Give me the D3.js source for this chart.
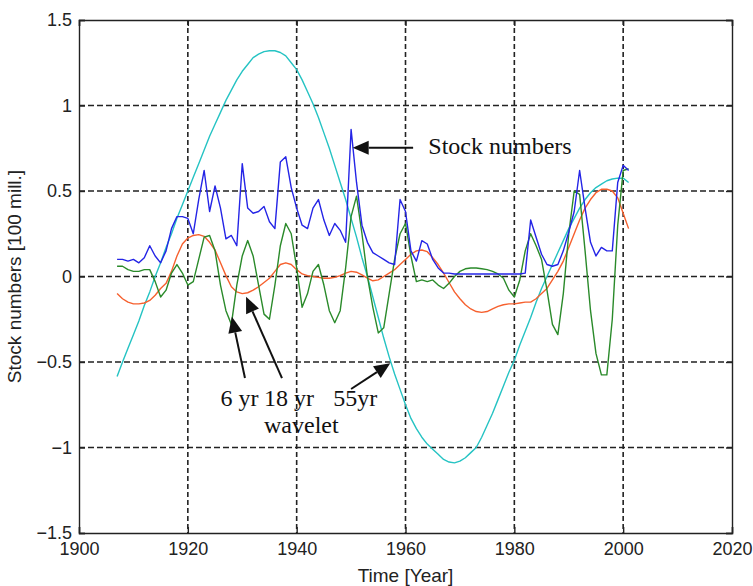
<!DOCTYPE html>
<html>
<head>
<meta charset="utf-8">
<script src="https://cdn.jsdelivr.net/npm/d3@7"></script>
<style>
  body { margin: 0; background: #fff; }
  .tick text { font-family: "Liberation Sans", Arial, sans-serif; font-size: 18px; fill: #222; }
  .axis-label { font-family: "Liberation Sans", Arial, sans-serif; font-size: 19px; fill: #222; }
  .note { font-family: "Liberation Serif", "Times New Roman", serif; font-size: 24px; fill: #111; }
</style>
</head>
<body>
<div id="vis"></div>
<script>
//###############################################################
// Stock numbers with 6 / 18 / 55 yr wavelet components
//###############################################################
const FRAME_WIDTH = 753;
const FRAME_HEIGHT = 586;
const MARGINS = {left: 79, right: 21, top: 20, bottom: 53};
const VIS_WIDTH = FRAME_WIDTH - MARGINS.left - MARGINS.right;
const VIS_HEIGHT = FRAME_HEIGHT - MARGINS.top - MARGINS.bottom;

// years 1907 .. 2001
const YEARS = d3.range(1907, 2002);

const X_TICKS = [1900, 1920, 1940, 1960, 1980, 2000, 2020];
const Y_TICKS = [-1.5, -1, -0.5, 0, 0.5, 1, 1.5];

// stock numbers (blue)
const STOCK = [
  0.10, 0.10, 0.09, 0.10, 0.08, 0.11, 0.18, 0.12, 0.08, 0.15,
  0.28, 0.35, 0.35, 0.34, 0.25, 0.45, 0.62, 0.38, 0.53, 0.40,
  0.22, 0.24, 0.18, 0.66, 0.40, 0.37, 0.38, 0.41, 0.32, 0.28,
  0.67, 0.70, 0.52, 0.40, 0.30, 0.28, 0.40, 0.45, 0.33, 0.24,
  0.31, 0.27, 0.20, 0.86, 0.55, 0.30, 0.20, 0.14, 0.12, 0.10,
  0.08, 0.07, 0.45, 0.38, 0.15, 0.09, 0.21, 0.19, 0.10, 0.05,
  0.02, 0.02, 0.015, 0.015, 0.015, 0.015, 0.015, 0.015, 0.015, 0.015,
  0.015, 0.015, 0.015, 0.015, 0.015, 0.02, 0.33, 0.23, 0.13, 0.07,
  0.06, 0.07, 0.15, 0.26, 0.38, 0.62, 0.40, 0.20, 0.12, 0.17,
  0.15, 0.15, 0.55, 0.65, 0.62
];

// 6 yr wavelet (green)
const WAVE_6 = [
  0.06, 0.06, 0.04, 0.03, 0.03, 0.04, 0.04, -0.03, -0.12, -0.08,
  0.02, 0.07, 0.02, -0.05, -0.03, 0.10, 0.23, 0.24, 0.15, -0.05,
  -0.20, -0.28, -0.05, 0.12, 0.21, 0.12, -0.05, -0.22, -0.25, -0.05,
  0.18, 0.31, 0.25, 0.05, -0.18, -0.10, 0.03, 0.07, -0.05, -0.20,
  -0.27, -0.20, 0.05, 0.35, 0.47, 0.25, 0.00, -0.18, -0.33, -0.30,
  -0.10, 0.10, 0.25, 0.31, 0.12, -0.03, -0.02, -0.03, -0.02, -0.05,
  -0.07, -0.04, 0.00, 0.03, 0.045, 0.05, 0.05, 0.045, 0.04, 0.03,
  0.015, -0.01, -0.08, -0.12, -0.02, 0.15, 0.25, 0.18, 0.10, -0.08,
  -0.28, -0.34, -0.10, 0.25, 0.50, 0.48, 0.15, -0.20, -0.45, -0.575,
  -0.575, -0.25, 0.30, 0.62, 0.63
];

// 18 yr wavelet (orange)
const WAVE_18 = [
  -0.10, -0.13, -0.15, -0.16, -0.16, -0.155, -0.14, -0.11, -0.07, -0.04,
  0.03, 0.12, 0.19, 0.225, 0.24, 0.245, 0.235, 0.20, 0.155, 0.08,
  0.005, -0.06, -0.09, -0.10, -0.095, -0.08, -0.06, -0.035, -0.01, 0.03,
  0.07, 0.08, 0.07, 0.04, 0.015, 0.005, 0.00, -0.005, -0.01, -0.01,
  -0.005, 0.005, 0.02, 0.03, 0.025, 0.01, -0.01, -0.025, -0.02, 0.00,
  0.02, 0.04, 0.07, 0.10, 0.13, 0.15, 0.155, 0.145, 0.11, 0.07,
  0.02, -0.035, -0.09, -0.13, -0.165, -0.19, -0.205, -0.21, -0.205, -0.19,
  -0.175, -0.165, -0.16, -0.16, -0.155, -0.15, -0.15, -0.13, -0.10, -0.07,
  -0.02, 0.03, 0.09, 0.17, 0.25, 0.33, 0.40, 0.45, 0.49, 0.51,
  0.51, 0.50, 0.46, 0.37, 0.28
];

// 55 yr wavelet (cyan)
const WAVE_55 = [
  -0.585, -0.50, -0.42, -0.34, -0.26, -0.17, -0.09, 0.00, 0.08, 0.17,
  0.25, 0.34, 0.42, 0.50, 0.58, 0.66, 0.74, 0.82, 0.89, 0.96,
  1.03, 1.09, 1.15, 1.20, 1.24, 1.28, 1.30, 1.315, 1.32, 1.32,
  1.31, 1.29, 1.25, 1.21, 1.15, 1.08, 1.01, 0.93, 0.84, 0.75,
  0.65, 0.55, 0.45, 0.34, 0.23, 0.11, 0.00, -0.12, -0.24, -0.36,
  -0.47, -0.57, -0.66, -0.75, -0.83, -0.89, -0.94, -0.98, -1.01, -1.04,
  -1.07, -1.085, -1.09, -1.08, -1.06, -1.03, -1.00, -0.94, -0.87, -0.80,
  -0.72, -0.64, -0.56, -0.49, -0.40, -0.32, -0.24, -0.15, -0.07, 0.00,
  0.07, 0.14, 0.21, 0.28, 0.34, 0.40, 0.45, 0.49, 0.52, 0.54,
  0.56, 0.57, 0.575, 0.575, 0.55
];

const SERIES = [
  {name: "55 yr", values: WAVE_55, color: "#25c3c3"},
  {name: "18 yr", values: WAVE_18, color: "#f6602e"},
  {name: "6 yr", values: WAVE_6, color: "#2a8a2a"},
  {name: "stock", values: STOCK, color: "#2424e6"}
];

const FRAME = d3.select("#vis")
                  .append("svg")
                    .attr("width", FRAME_WIDTH)
                    .attr("height", FRAME_HEIGHT);

const X_SCALE = d3.scaleLinear()
                  .domain([1900, 2020])
                  .range([MARGINS.left, MARGINS.left + VIS_WIDTH]);
const Y_SCALE = d3.scaleLinear()
                  .domain([-1.5, 1.5])
                  .range([MARGINS.top + VIS_HEIGHT, MARGINS.top]);

// grid lines (inside ticks only)
FRAME.append("g")
  .selectAll("line")
  .data(X_TICKS.slice(1, -1))
  .enter()
  .append("line")
    .attr("x1", d => X_SCALE(d)).attr("x2", d => X_SCALE(d))
    .attr("y1", MARGINS.top).attr("y2", MARGINS.top + VIS_HEIGHT)
    .attr("stroke", "#222").attr("stroke-width", 1.6)
    .attr("stroke-dasharray", "5,3");

FRAME.append("g")
  .selectAll("line")
  .data(Y_TICKS.slice(1, -1))
  .enter()
  .append("line")
    .attr("x1", MARGINS.left).attr("x2", MARGINS.left + VIS_WIDTH)
    .attr("y1", d => Y_SCALE(d)).attr("y2", d => Y_SCALE(d))
    .attr("stroke", "#222").attr("stroke-width", 1.6)
    .attr("stroke-dasharray", "6,3");

// the four curves
const LINE = d3.line()
  .x((d, i) => X_SCALE(YEARS[i]))
  .y(d => Y_SCALE(d));

FRAME.append("g")
  .selectAll("path")
  .data(SERIES)
  .enter()
  .append("path")
    .attr("d", d => LINE(d.values))
    .attr("fill", "none")
    .attr("stroke", d => d.color)
    .attr("stroke-width", 1.4)
    .attr("stroke-linejoin", "round");

// axes, MATLAB style ticks pointing inwards
const fmt = d => d3.format("")(d);
FRAME.append("g")
  .attr("transform", "translate(0," + (MARGINS.top + VIS_HEIGHT) + ")")
  .call(d3.axisBottom(X_SCALE).tickValues(X_TICKS).tickSize(-6).tickPadding(9).tickFormat(fmt));
FRAME.append("g")
  .attr("transform", "translate(" + MARGINS.left + ",0)")
  .call(d3.axisLeft(Y_SCALE).tickValues(Y_TICKS).tickSize(-6).tickPadding(7).tickFormat(fmt));
FRAME.append("g")
  .attr("transform", "translate(0," + MARGINS.top + ")")
  .call(d3.axisTop(X_SCALE).tickValues(X_TICKS).tickSize(-6).tickFormat(""));
FRAME.append("g")
  .attr("transform", "translate(" + (MARGINS.left + VIS_WIDTH) + ",0)")
  .call(d3.axisRight(Y_SCALE).tickValues(Y_TICKS).tickSize(-6).tickFormat(""));

FRAME.selectAll(".domain").attr("stroke", "#222").attr("stroke-width", 1.4);
FRAME.selectAll(".tick line").attr("stroke", "#222").attr("stroke-width", 1.4);

// axis titles
FRAME.append("text")
  .attr("class", "axis-label")
  .attr("x", X_SCALE(1960))
  .attr("y", 582)
  .attr("text-anchor", "middle")
  .text("Time [Year]");

FRAME.append("text")
  .attr("class", "axis-label")
  .attr("transform", "translate(21," + Y_SCALE(0) + ") rotate(-90)")
  .attr("text-anchor", "middle")
  .text("Stock numbers [100 mill.]");

// annotations, placed in data units
const ARROWS = [
  {from: [1961.4, 0.753], to: [1950.3, 0.753]},
  {from: [1930.5, -0.594], to: [1928.1, -0.235]},
  {from: [1937.3, -0.594], to: [1930.7, -0.118]},
  {from: [1950.0, -0.658], to: [1957.2, -0.508]}
];

ARROWS.forEach(a => {
  const x1 = X_SCALE(a.from[0]), y1 = Y_SCALE(a.from[1]);
  const x2 = X_SCALE(a.to[0]), y2 = Y_SCALE(a.to[1]);
  const ang = Math.atan2(y2 - y1, x2 - x1);
  const len = 16, half = 7;
  const bx = x2 - len * Math.cos(ang), by = y2 - len * Math.sin(ang);
  FRAME.append("line")
    .attr("x1", x1).attr("y1", y1).attr("x2", bx).attr("y2", by)
    .attr("stroke", "#111").attr("stroke-width", 2);
  FRAME.append("polygon")
    .attr("points", [
      [x2, y2],
      [bx + half * Math.sin(ang), by - half * Math.cos(ang)],
      [bx - half * Math.sin(ang), by + half * Math.cos(ang)]
    ].map(p => p.join(",")).join(" "))
    .attr("fill", "#111");
});

const NOTES = [
  {text: "Stock numbers", year: 1964.2, value: 0.716},
  {text: "6 yr", year: 1926.0, value: -0.76},
  {text: "18 yr", year: 1934.0, value: -0.76},
  {text: "55yr", year: 1946.7, value: -0.76},
  {text: "wavelet", year: 1934.0, value: -0.917}
];

FRAME.selectAll(".note")
  .data(NOTES)
  .enter()
  .append("text")
    .attr("class", "note")
    .attr("x", d => X_SCALE(d.year))
    .attr("y", d => Y_SCALE(d.value))
    .text(d => d.text);
</script>
</body>
</html>
